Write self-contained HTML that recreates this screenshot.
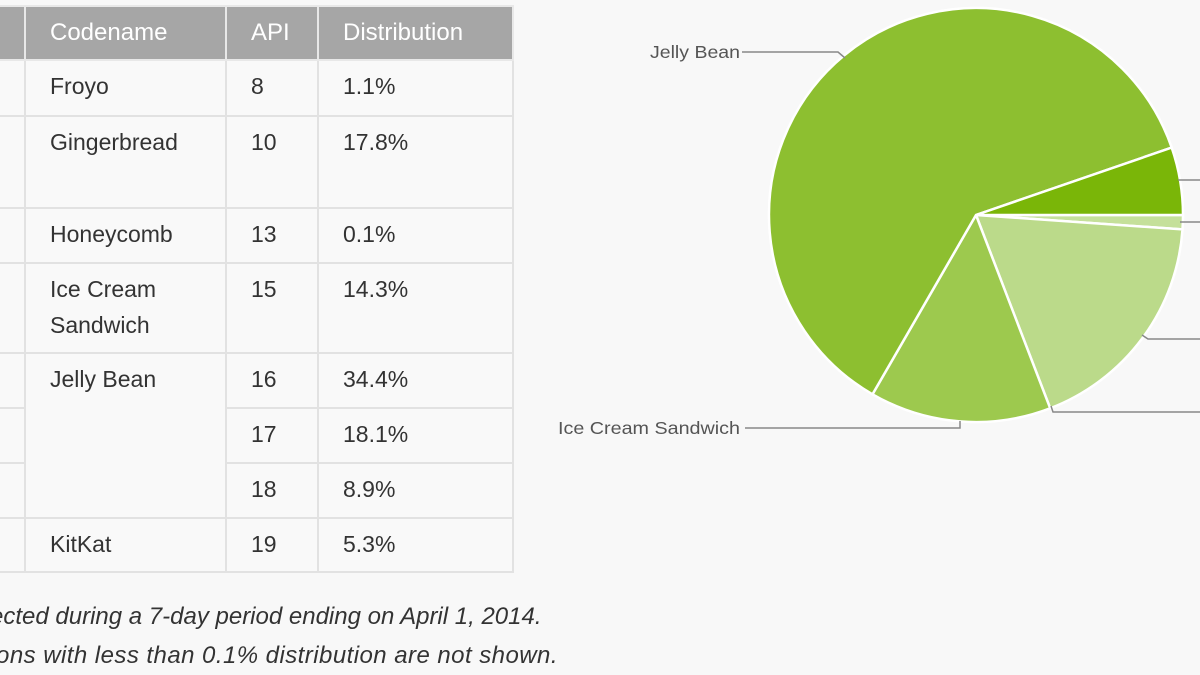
<!DOCTYPE html>
<html><head><meta charset="utf-8"><style>
html,body{margin:0;padding:0;background:#f8f8f8;width:1200px;height:675px;overflow:hidden;font-family:"Liberation Sans",sans-serif;}
.t{position:absolute;border-collapse:collapse;left:-200px;top:5px;}
.t td,.t th{border:2px solid #e2e2e2;padding:0 0 0 24px;text-align:left;vertical-align:top;font-weight:normal;font-size:23px;color:#333;line-height:36px;background:#f9f9f9;box-sizing:border-box}
.t th{background:#a6a6a6;color:#fff;border-color:#e8e8e8;height:50px;line-height:52px;font-size:24px}
.t td{padding-top:7px}
.f{position:absolute;font-style:italic;font-size:24px;color:#333;white-space:nowrap}
</style></head><body>
<table class="t">
<tr><th style="width:224px">Version</th><th style="width:201px">Codename</th><th style="width:92px">API</th><th style="width:195px">Distribution</th></tr>
<tr style="height:56px"><td></td><td>Froyo</td><td>8</td><td>1.1%</td></tr>
<tr style="height:92px"><td></td><td>Gingerbread</td><td>10</td><td>17.8%</td></tr>
<tr style="height:55px"><td></td><td>Honeycomb</td><td>13</td><td>0.1%</td></tr>
<tr style="height:90px"><td></td><td>Ice Cream<br>Sandwich</td><td>15</td><td>14.3%</td></tr>
<tr style="height:55px"><td></td><td rowspan="3">Jelly Bean</td><td>16</td><td>34.4%</td></tr>
<tr style="height:55px"><td></td><td>17</td><td>18.1%</td></tr>
<tr style="height:55px"><td></td><td>18</td><td>8.9%</td></tr>
<tr style="height:54px"><td></td><td>KitKat</td><td>19</td><td>5.3%</td></tr>
</table>
<div class="f" style="top:603px;left:-46px">collected during a 7-day period ending on April 1, 2014.</div>
<div class="f" style="top:642px;left:-60px;letter-spacing:0.45px">Versions with less than 0.1% distribution are not shown.</div>
<svg width="1200" height="675" style="position:absolute;left:0;top:0">
<g stroke="#fff" stroke-width="2.5">
<path d="M976,215 L1183,215 A207,207 0 0 1 1182.5,229.4 Z" fill="#c5e09a"/>
<path d="M976,215 L1182.5,229.4 A207,207 0 0 1 1050.2,408.3 Z" fill="#bbda8a"/>
<path d="M976,215 L1050.2,408.3 A207,207 0 0 1 872.5,394.3 Z" fill="#9dc94e"/>
<path d="M976,215 L872.5,394.3 A207,207 0 1 1 1171.7,147.6 Z" fill="#8dbf30"/>
<path d="M976,215 L1171.7,147.6 A207,207 0 0 1 1183,215 Z" fill="#7ab608"/>
</g>
<g stroke="#888" stroke-width="1.5" fill="none">
<polyline points="742,52 838,52 845,58"/>
<polyline points="745,428 960,428 960,421"/>
<polyline points="1178,180 1200,180"/>
<polyline points="1180,222 1200,222"/>
<polyline points="1142,335 1148,339 1200,339"/>
<polyline points="1051,406 1053,412 1200,412"/>
</g>
<g font-family="Liberation Sans,sans-serif" font-size="17.5" fill="#555">
<text x="740" y="58" text-anchor="end" textLength="90" lengthAdjust="spacingAndGlyphs">Jelly Bean</text>
<text x="740" y="434" text-anchor="end" textLength="182" lengthAdjust="spacingAndGlyphs">Ice Cream Sandwich</text>
</g>
</svg>
</body></html>
